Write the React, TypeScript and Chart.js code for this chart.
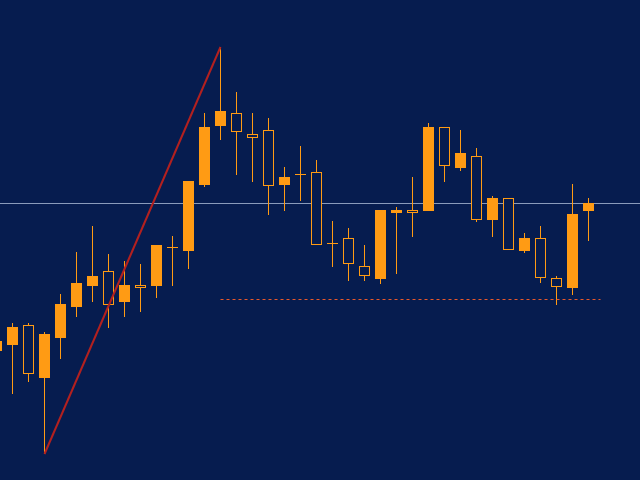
import { useEffect, useRef } from "react";
import { Chart, registerables } from "chart.js";

Chart.register(...registerables);

// Bar sequence (index of each candle)
const BAR_INDEX = [
  0, 1, 2, 3, 4, 5, 6, 7, 8, 9, 10, 11, 12, 13, 14, 15, 16, 17, 18, 19,
  20, 21, 22, 23, 24, 25, 26, 27, 28, 29, 30, 31, 32, 33, 34, 35, 36, 37,
];

const OPEN = [
  129, 135, 155, 102, 142, 173, 194, 209, 178, 195, 194, 232, 229, 295, 354, 367, 346, 350, 295, 305,
  308, 236, 242, 214, 201, 267, 270, 269, 353, 312, 324, 260, 282, 229, 242, 202, 192, 269,
];
const HIGH = [
  142, 157, 157, 148, 186, 228, 254, 226, 219, 216, 235, 244, 299, 367, 433, 388, 367, 362, 313, 334,
  320, 259, 252, 235, 270, 273, 303, 357, 353, 350, 332, 284, 282, 247, 254, 204, 296, 282,
];
const LOW = [
  125, 86, 98, 26, 121, 163, 178, 152, 163, 168, 182, 194, 211, 293, 340, 305, 298, 265, 269, 279,
  235, 213, 199, 199, 196, 206, 243, 269, 298, 309, 258, 243, 230, 227, 197, 175, 185, 239,
];
const CLOSE = [
  139, 153, 106, 146, 176, 197, 204, 175, 195, 192, 235, 233, 299, 353, 369, 348, 342, 294, 303, 306,
  235, 237, 216, 204, 270, 270, 267, 353, 314, 327, 260, 282, 230, 242, 202, 193, 266, 277,
];

// Horizontal levels
const LEVEL_SOLID = 276.5;
const LEVEL_DASHED = 180.5;
const DASHED_START_INDEX = 14;
const DASHED_END_INDEX = 37.75;

// Trend line: from the low of bar 3 to the high of bar 14
const TREND_START_INDEX = 3;
const TREND_END_INDEX = 14;

const X_MIN = 0.21875;
const X_MAX = 40.21875;
const Y_MIN = 0;
const Y_MAX = 480;

const BG = "#061c4f";
const ORANGE = "#ff9b14";

export default function App() {
  const ref = useRef<HTMLCanvasElement | null>(null);

  useEffect(() => {
    document.body.style.margin = "0";
    const canvas = ref.current;
    if (!canvas) return;

    const bodyData = BAR_INDEX.map((i) => ({ x: i, y: [OPEN[i], CLOSE[i]] }));
    const wickData = BAR_INDEX.map((i) => ({ x: i, y: [LOW[i], HIGH[i]] }));
    const bodyFill = BAR_INDEX.map((i) => (CLOSE[i] >= OPEN[i] ? ORANGE : BG));

    const chart = new Chart(canvas, {
      type: "bar",
      data: {
        datasets: [
          {
            type: "line",
            label: "trend",
            data: [
              { x: TREND_START_INDEX, y: LOW[TREND_START_INDEX] },
              { x: TREND_END_INDEX, y: HIGH[TREND_END_INDEX] },
            ],
            borderColor: "#b3201f",
            borderWidth: 2,
            pointRadius: 0,
            order: 1,
          } as any,
          {
            type: "line",
            label: "dashed level",
            data: [
              { x: DASHED_START_INDEX, y: LEVEL_DASHED },
              { x: DASHED_END_INDEX, y: LEVEL_DASHED },
            ],
            borderColor: "#e8582a",
            borderWidth: 1,
            borderDash: [3, 3],
            pointRadius: 0,
            order: 2,
          } as any,
          {
            type: "bar",
            label: "body",
            data: bodyData as any,
            backgroundColor: bodyFill,
            borderColor: ORANGE,
            borderWidth: 1,
            borderSkipped: false,
            inflateAmount: 0,
            barThickness: 11,
            order: 3,
          } as any,
          {
            type: "bar",
            label: "wick",
            data: wickData as any,
            backgroundColor: ORANGE,
            borderWidth: 0,
            borderSkipped: false,
            inflateAmount: 0,
            barThickness: 1,
            order: 4,
          } as any,
          {
            type: "line",
            label: "solid level",
            data: [
              { x: X_MIN, y: LEVEL_SOLID },
              { x: X_MAX, y: LEVEL_SOLID },
            ],
            borderColor: "#8a9bbb",
            borderWidth: 1,
            pointRadius: 0,
            order: 10,
          } as any,
        ],
      },
      options: {
        animation: false,
        responsive: false,
        events: [],
        layout: { padding: 0 },
        plugins: { legend: { display: false }, tooltip: { enabled: false } },
        scales: {
          x: {
            type: "linear",
            min: X_MIN,
            max: X_MAX,
            offset: false,
            bounds: "ticks",
            display: false,
            stacked: true,
          },
          y: { type: "linear", min: Y_MIN, max: Y_MAX, display: false, stacked: false },
        },
      },
    });
    return () => chart.destroy();
  }, []);

  return (
    <div style={{ position: "fixed", left: 0, top: 0, width: 640, height: 480, background: BG }}>
      <canvas ref={ref} width={640} height={480} style={{ display: "block", background: BG }} />
    </div>
  );
}
